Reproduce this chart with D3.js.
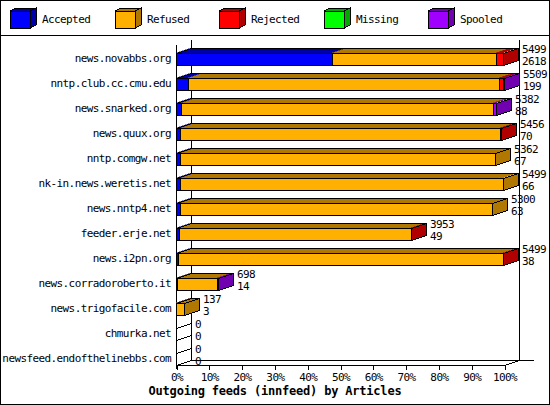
<!DOCTYPE html>
<html><head><meta charset="utf-8">
<script src="https://cdn.jsdelivr.net/npm/d3@7"></script>
<style>
html,body{margin:0;padding:0;background:#fff;}
svg{display:block;}
text{font-family:"DejaVu Sans Mono","Liberation Mono",monospace;fill:#000;}
</style></head>
<body>
<svg id="chart" width="550" height="405"></svg>
<script>
// ---- data ----
const hosts = ["news.novabbs.org","nntp.club.cc.cmu.edu","news.snarked.org","news.quux.org","nntp.comgw.net","nk-in.news.weretis.net","news.nntp4.net","feeder.erje.net","news.i2pn.org","news.corradoroberto.it","news.trigofacile.com","chmurka.net","newsfeed.endofthelinebbs.com"];
const accepted = [2618,199,88,70,67,66,63,49,38,14,3,0,0];
const refused  = [2750,5231,5241,5366,5295,5433,5237,3894,5451,679,134,0,0];
const rejected = [131,66,0,20,0,0,0,10,10,0,0,0,0];
const missing  = [0,0,0,0,0,0,0,0,0,0,0,0,0];
const spooled  = [0,13,53,0,0,0,0,0,0,5,0,0,0];
const seriesNames = ["Accepted","Refused","Rejected","Missing","Spooled"];
const tickValues = [0,10,20,30,40,50,60,70,80,90,100];
const title = "Outgoing feeds (innfeed) by Articles";

const colors = ["#0000ff","#ffb000","#ff0000","#00ff00","#a000ff"];
const darks  = ["#0000a8","#b07800","#b00000","#00a800","#7000b0"];

const series = [accepted, refused, rejected, missing, spooled];
const totals = hosts.map((h,i)=>d3.sum(series, s=>s[i]));
const maxT = d3.max(totals);

const svg = d3.select("#chart");
const DX = 15, DY = 5, HB = 6;
const r = v => Math.round(v);
const p = v => Math.round(v)+0.5;

// border
svg.append("rect").attr("x",0.5).attr("y",0.5).attr("width",549).attr("height",404)
  .attr("fill","#fff").attr("stroke","#000").attr("shape-rendering","crispEdges");
svg.append("line").attr("x1",0).attr("x2",550).attr("y1",35.5).attr("y2",35.5)
  .attr("stroke","#000").attr("shape-rendering","crispEdges");

// legend
const lg = svg.append("g");
seriesNames.forEach((name,i)=>{
  const x0 = r(10 + i*104.5), y0 = 11, w = 20, h = 17, dx = 6, dy = 3;
  const g = lg.append("g").attr("shape-rendering","crispEdges");
  g.append("polygon").attr("points",[[x0,y0],[x0+dx,y0-dy],[x0+w+dx,y0-dy],[x0+w,y0]].map(d=>d.join(",")).join(" "))
    .attr("fill",darks[i]).attr("stroke","#000");
  g.append("polygon").attr("points",[[x0+w,y0],[x0+w+dx,y0-dy],[x0+w+dx,y0+h-dy],[x0+w,y0+h]].map(d=>d.join(",")).join(" "))
    .attr("fill",darks[i]).attr("stroke","#000");
  g.append("rect").attr("x",x0+0.5).attr("y",y0+0.5).attr("width",w).attr("height",h)
    .attr("fill",colors[i]).attr("stroke","#000");
  lg.append("text").attr("x",x0+32).attr("y",20).attr("dominant-baseline","middle")
    .attr("font-size",11).attr("letter-spacing",-0.6).text(name);
});

// scales
const x = d3.scaleLinear().domain([0,100]).range([176,504]);
const y = d3.scalePoint().domain(hosts).range([59,359]);
const yTop = 40, yFloor = 365;

// axes / frame lines
const ax = svg.append("g").attr("stroke","#000").attr("shape-rendering","crispEdges");
ax.append("line").attr("x1",p(x(0))).attr("x2",p(x(0))).attr("y1",yTop+DY).attr("y2",yFloor+4);
ax.append("line").attr("x1",p(x(0)+DX)).attr("x2",p(x(0)+DX)).attr("y1",yTop).attr("y2",yFloor-DY);
ax.append("line").attr("x1",p(x(100)+DX)).attr("x2",p(x(100)+DX)).attr("y1",yTop).attr("y2",yFloor-DY);
ax.append("line").attr("x1",x(0)).attr("x2",x(100)+1).attr("y1",yFloor+0.5).attr("y2",yFloor+0.5);
ax.append("line").attr("x1",x(0)+DX).attr("x2",x(100)+DX+15).attr("y1",yFloor-DY+0.5).attr("y2",yFloor-DY+0.5);
ax.append("line").attr("x1",p(x(0))).attr("x2",p(x(0)+DX)).attr("y1",p(yFloor)).attr("y2",p(yFloor-DY));
ax.append("line").attr("x1",p(x(100))).attr("x2",p(x(100)+DX)).attr("y1",p(yFloor)).attr("y2",p(yFloor-DY));

const xAxis = d3.axisBottom(x).tickValues(tickValues).tickFormat(d=>d+"%").tickSize(4).tickPadding(4);
const xg = svg.append("g").attr("transform",`translate(0.5,${yFloor+0.5})`).call(xAxis);
xg.select(".domain").remove();
xg.selectAll("line").attr("stroke","#000").attr("shape-rendering","crispEdges");
xg.selectAll("text").attr("font-size",11).attr("letter-spacing",-0.6).attr("font-family",'"DejaVu Sans Mono",monospace').attr("fill","#000");

// category labels
svg.append("g").selectAll("text").data(hosts).join("text")
  .attr("x",171).attr("y",d=>y(d)).attr("text-anchor","end").attr("dominant-baseline","middle")
  .attr("font-size",11).attr("letter-spacing",-0.6).text(d=>d);

// bars
const bars = svg.append("g").attr("shape-rendering","crispEdges");
hosts.forEach((h,i)=>{
  const c = y(h), top = c-HB, bot = c+HB;
  let cum = 0, last = -1;
  const segs = [];
  series.forEach((s,k)=>{
    const v = s[i];
    if (v>0){ segs.push({k, a:cum, b:cum+v}); last = k; }
    cum += v;
  });
  const xs = v => x(v/maxT*100);
  const xe = r(xs(cum)), xb = r(x(0));
  const g = bars.append("g");
  // top faces
  segs.forEach(sg=>{
    const a = r(xs(sg.a)), b = r(xs(sg.b));
    g.append("polygon").attr("points",[[a,top],[a+DX,top-DY],[b+DX,top-DY],[b,top]].map(d=>d.join(",")).join(" "))
      .attr("fill",darks[sg.k]).attr("stroke",darks[sg.k]).attr("stroke-width",0.5);
  });
  g.append("polygon").attr("points",[[xb+.5,top+.5],[xb+DX+.5,top-DY+.5],[xe+DX+.5,top-DY+.5],[xe+.5,top+.5]].map(d=>d.join(",")).join(" "))
    .attr("fill","none").attr("stroke","#000");
  // side face
  g.append("polygon").attr("points",[[xe+.5,top+.5],[xe+DX+.5,top-DY+.5],[xe+DX+.5,bot-DY+.5],[xe+.5,bot+.5]].map(d=>d.join(",")).join(" "))
    .attr("fill", last>=0 ? darks[last] : "#fff").attr("stroke","#000");
  // front faces
  segs.forEach(sg=>{
    const a = r(xs(sg.a)), b = r(xs(sg.b));
    g.append("rect").attr("x",a+.5).attr("y",top+.5).attr("width",Math.max(0,b-a)).attr("height",bot-top)
      .attr("fill",colors[sg.k]).attr("stroke","#000");
  });
  // value labels
  g.append("text").attr("x",xe+DX+4).attr("y",c-9).attr("dominant-baseline","middle")
    .attr("font-size",11).attr("letter-spacing",-0.6).text(totals[i]);
  g.append("text").attr("x",xe+DX+4).attr("y",c+3).attr("dominant-baseline","middle")
    .attr("font-size",11).attr("letter-spacing",-0.6).text(accepted[i]);
});

// title
svg.append("text").attr("x",275).attr("y",391).attr("text-anchor","middle").attr("dominant-baseline","middle")
  .attr("font-size",12).attr("font-weight","bold").attr("letter-spacing",-0.2).text(title);
</script>
</body></html>
